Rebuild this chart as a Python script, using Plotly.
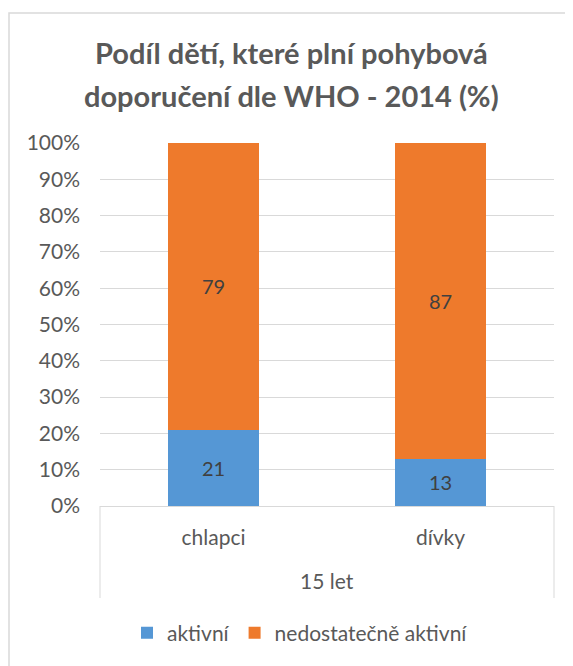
import plotly.graph_objects as go

title_lines = ["Podíl dětí, které plní pohybová", "doporučení dle WHO - 2014 (%)"]
group_label = "15 let"
categories = ["chlapci", "dívky"]
aktivni = [21, 13]
nedostatecne = [79, 87]
series_names = ["aktivní", "nedostatečně aktivní"]
y_ticks = [0, 10, 20, 30, 40, 50, 60, 70, 80, 90, 100]
y_tick_labels = [f"{v}%" for v in y_ticks]

FONT = "Lato"
TXT = "#595959"
GRID = "#D9D9D9"

W, H = 565, 658          # page body has an 8px margin
L, R, T, B = 92, 19, 135, 160
PW, PH = W - L - R, H - T - B


def py(page_y):
    """page pixel y -> paper y"""
    return (T + PH - (page_y - 8)) / PH


def px(page_x):
    return (page_x - 8 - L) / PW


fig = go.Figure()
fig.add_trace(go.Bar(
    x=categories, y=aktivni, name=series_names[0],
    marker=dict(color="#5597D5", line=dict(width=0)),
    text=aktivni, textposition="inside", insidetextanchor="middle",
    textangle=0, textfont=dict(family=FONT, size=20, color="#404040"),
))
fig.add_trace(go.Bar(
    x=categories, y=nedostatecne, name=series_names[1],
    marker=dict(color="#EE7A2C", line=dict(width=0)),
    text=nedostatecne, textposition="inside", insidetextanchor="middle",
    textangle=0, textfont=dict(family=FONT, size=20, color="#404040"),
))

title_ann = [
    dict(text=f"<b>{t}</b>", xref="paper", yref="paper",
         x=px(291), y=py(yy), xanchor="center", yanchor="middle",
         showarrow=False, font=dict(family=FONT, size=29, color=TXT))
    for t, yy in zip(title_lines, [52, 96])
]

fig.update_layout(
    barmode="stack",
    bargap=0.6,
    width=W, height=H,
    margin=dict(l=L, r=R, t=T, b=B),
    paper_bgcolor="white", plot_bgcolor="white",
    font=dict(family=FONT, size=21, color=TXT),
    yaxis=dict(
        range=[0, 100], tickvals=y_ticks, ticktext=y_tick_labels,
        showgrid=True, gridcolor=GRID, gridwidth=1,
        zeroline=False, showline=False, ticks="",
        ticklabelstandoff=19, automargin=False,
        tickfont=dict(family=FONT, size=21, color=TXT),
    ),
    xaxis=dict(
        type="category",
        showline=True, linecolor=GRID, linewidth=1,
        ticks="", ticklabelstandoff=13, automargin=False,
        tickfont=dict(family=FONT, size=21, color=TXT),
    ),
    legend=dict(
        orientation="h", x=px(300), xanchor="center",
        y=py(633), yanchor="middle",
        font=dict(family=FONT, size=21, color=TXT),
        traceorder="normal",
    ),
    annotations=title_ann + [dict(
        text=group_label, xref="paper", yref="paper",
        x=0.5, y=py(580), xanchor="center", yanchor="middle",
        showarrow=False, font=dict(family=FONT, size=21, color=TXT),
    )],
    shapes=[
        dict(type="rect", xref="paper", yref="paper",
             x0=px(9), x1=px(640), y0=py(720), y1=py(13),
             line=dict(color=GRID, width=1.5), layer="below"),
        dict(type="line", xref="paper", yref="paper",
             x0=0, x1=0, y0=0, y1=py(598),
             line=dict(color=GRID, width=1)),
        dict(type="line", xref="paper", yref="paper",
             x0=1, x1=1, y0=0, y1=py(598),
             line=dict(color=GRID, width=1)),
    ],
)

fig.write_html("out.html")
